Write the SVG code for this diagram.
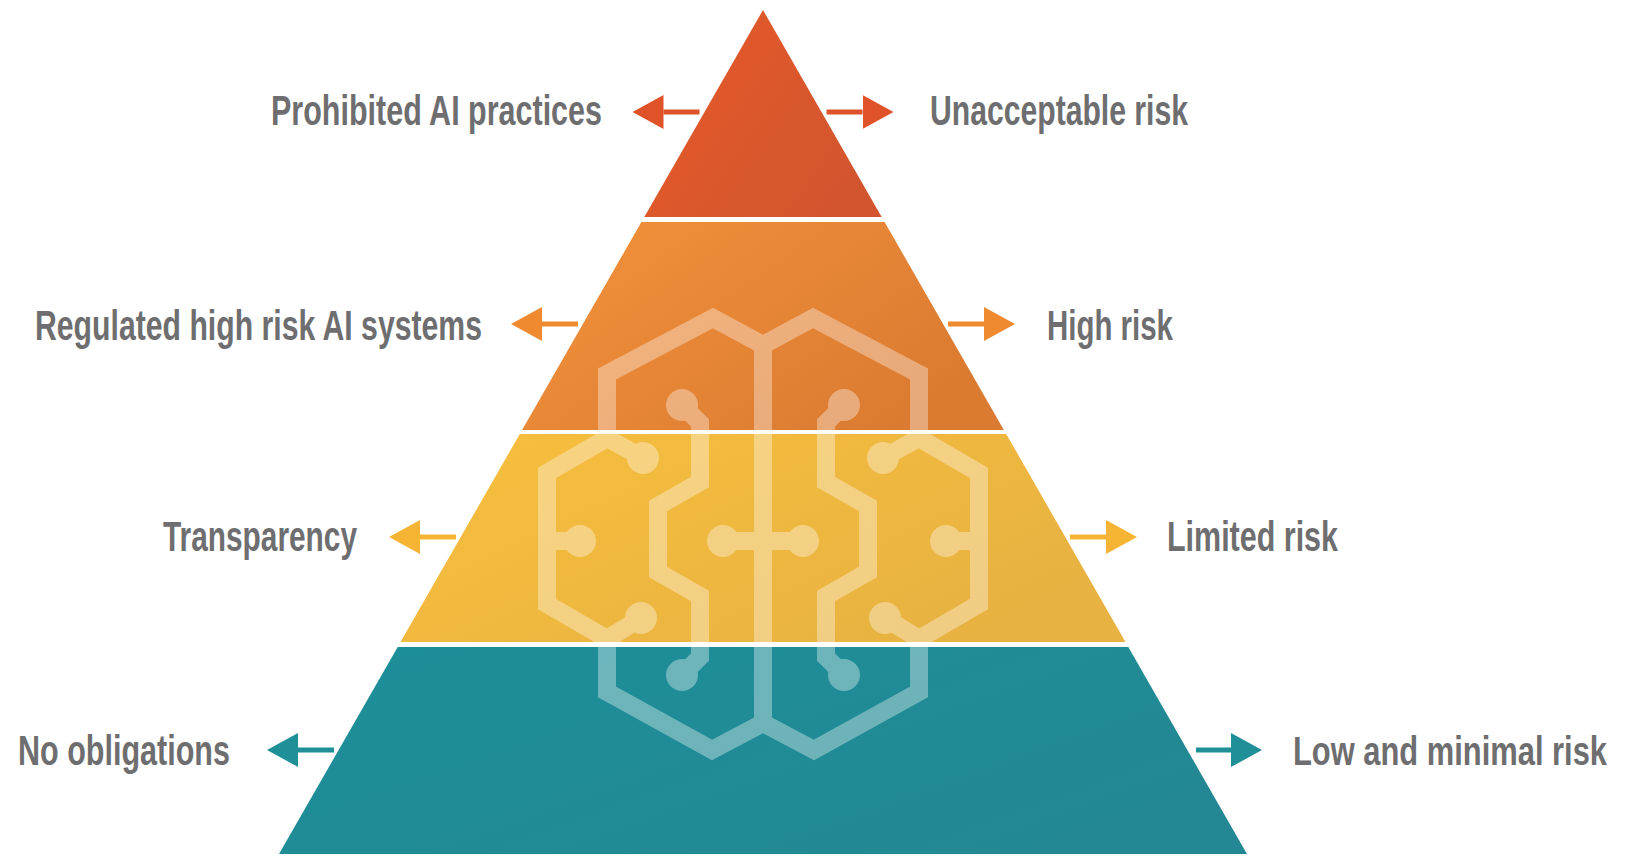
<svg xmlns="http://www.w3.org/2000/svg" xmlns:xlink="http://www.w3.org/1999/xlink" width="1637" height="857" viewBox="0 0 1637 857">
  <style>
    .lbl { font-family: "Liberation Sans Narrow", "Liberation Sans", Arial, sans-serif; font-weight: 700; font-size: 42px; fill: #6e6e70; }
    .shaft { stroke-width: 5; fill: none; }
    .brain { fill: none; stroke: #ffffff; stroke-width: 18; stroke-linejoin: miter; }
    .dot { fill: #ffffff; }
  </style>
  <defs>
    <linearGradient id="g1" x1="0" y1="0" x2="1" y2="0.6">
      <stop offset="0" stop-color="#e65a28"/>
      <stop offset="1" stop-color="#d3552f"/>
    </linearGradient>
    <linearGradient id="g2" x1="0" y1="0" x2="1" y2="0.6">
      <stop offset="0" stop-color="#f3923b"/>
      <stop offset="1" stop-color="#db7b31"/>
    </linearGradient>
    <linearGradient id="g3" x1="0" y1="0" x2="1" y2="0.6">
      <stop offset="0" stop-color="#f8bf3d"/>
      <stop offset="1" stop-color="#e7b241"/>
    </linearGradient>
    <linearGradient id="g4" x1="0" y1="0" x2="1" y2="0.6">
      <stop offset="0" stop-color="#1c8f99"/>
      <stop offset="1" stop-color="#238893"/>
    </linearGradient>
    <marker id="h1" markerWidth="32" markerHeight="36" viewBox="0 -18 32 36" refX="0" refY="0" orient="auto" markerUnits="userSpaceOnUse">
      <path d="M0,-17 L31,0 L0,17 Z" fill="#e0532a"/>
    </marker>
    <marker id="h2" markerWidth="32" markerHeight="36" viewBox="0 -18 32 36" refX="0" refY="0" orient="auto" markerUnits="userSpaceOnUse">
      <path d="M0,-17 L31,0 L0,17 Z" fill="#f08a30"/>
    </marker>
    <marker id="h3" markerWidth="32" markerHeight="36" viewBox="0 -18 32 36" refX="0" refY="0" orient="auto" markerUnits="userSpaceOnUse">
      <path d="M0,-17 L31,0 L0,17 Z" fill="#f6b435"/>
    </marker>
    <marker id="h4" markerWidth="32" markerHeight="36" viewBox="0 -18 32 36" refX="0" refY="0" orient="auto" markerUnits="userSpaceOnUse">
      <path d="M0,-17 L31,0 L0,17 Z" fill="#1f8f98"/>
    </marker>
    <g id="brainHalf">
      <path class="brain" d="M763,345 L713,318 L607,374 L607,438 L547,473 L547,604 L607,639 L607,692 L712,750 L763,723"/>
      <path class="brain" d="M607,438 L643,458"/>
      <path class="brain" d="M607,639 L641,618"/>
      <path class="brain" d="M682,405 L700,423 L700,482 L658,506 L658,572 L700,596 L700,657 L682,675"/>
      <path class="brain" d="M547,541 L580,541"/>
      <circle class="dot" cx="682" cy="405" r="16"/>
      <circle class="dot" cx="682" cy="675" r="16"/>
      <circle class="dot" cx="643" cy="458" r="16"/>
      <circle class="dot" cx="641" cy="618" r="16"/>
      <circle class="dot" cx="580" cy="541" r="16"/>
      <circle class="dot" cx="723" cy="541" r="16"/>
    </g>
  </defs>

  <rect x="0" y="0" width="1637" height="857" fill="#ffffff"/>

  <g id="tier-unacceptable">
    <polygon points="763,10 881.7,217 644.3,217" fill="url(#g1)"/>
  </g>
  <g id="tier-high">
    <polygon points="641.4,222 884.6,222 1003.9,430 522.1,430" fill="url(#g2)"/>
  </g>
  <g id="tier-limited">
    <polygon points="519.8,434 1006.2,434 1125.5,642 400.5,642" fill="url(#g3)"/>
  </g>
  <g id="tier-minimal">
    <polygon points="397.7,647 1128.3,647 1247,854 279,854" fill="url(#g4)"/>
  </g>

  <g id="brain-icon" opacity="0.35">
    <use xlink:href="#brainHalf" href="#brainHalf"/>
    <use xlink:href="#brainHalf" href="#brainHalf" transform="matrix(-1,0,0,1,1526,0)"/>
    <path class="brain" d="M763,345 L763,723 M723,541 L803,541"/>
  </g>

  <g id="connectors">
    <line class="shaft" x1="699.5" y1="112" x2="663.5" y2="112" stroke="#e0532a" marker-end="url(#h1)"/>
    <line class="shaft" x1="826.5" y1="112" x2="862.5" y2="112" stroke="#e0532a" marker-end="url(#h1)"/>
    <line class="shaft" x1="578" y1="324" x2="542" y2="324" stroke="#f08a30" marker-end="url(#h2)"/>
    <line class="shaft" x1="948" y1="324" x2="984" y2="324" stroke="#f08a30" marker-end="url(#h2)"/>
    <line class="shaft" x1="456" y1="537" x2="420" y2="537" stroke="#f6b435" marker-end="url(#h3)"/>
    <line class="shaft" x1="1070" y1="537" x2="1106" y2="537" stroke="#f6b435" marker-end="url(#h3)"/>
    <line class="shaft" x1="334" y1="750" x2="298" y2="750" stroke="#1f8f98" marker-end="url(#h4)"/>
    <line class="shaft" x1="1196" y1="750" x2="1231" y2="750" stroke="#1f8f98" marker-end="url(#h4)"/>
  </g>

  <g id="label-prohibited"><text class="lbl" x="271" y="125" textLength="331" lengthAdjust="spacingAndGlyphs">Prohibited AI practices</text></g>
  <g id="label-unacceptable"><text class="lbl" x="930" y="125" textLength="258" lengthAdjust="spacingAndGlyphs">Unacceptable risk</text></g>
  <g id="label-regulated"><text class="lbl" x="35" y="340" textLength="447" lengthAdjust="spacingAndGlyphs">Regulated high risk AI systems</text></g>
  <g id="label-high"><text class="lbl" x="1047" y="340" textLength="126" lengthAdjust="spacingAndGlyphs">High risk</text></g>
  <g id="label-transparency"><text class="lbl" x="163" y="551" textLength="194" lengthAdjust="spacingAndGlyphs">Transparency</text></g>
  <g id="label-limited"><text class="lbl" x="1167" y="551" textLength="171" lengthAdjust="spacingAndGlyphs">Limited risk</text></g>
  <g id="label-noobligations"><text class="lbl" x="18" y="765" textLength="212" lengthAdjust="spacingAndGlyphs">No obligations</text></g>
  <g id="label-low"><text class="lbl" transform="translate(1293,765) scale(1,1.25)" x="0" y="0" style="font-size:33px" textLength="314" lengthAdjust="spacingAndGlyphs">Low and minimal risk</text></g>
</svg>
